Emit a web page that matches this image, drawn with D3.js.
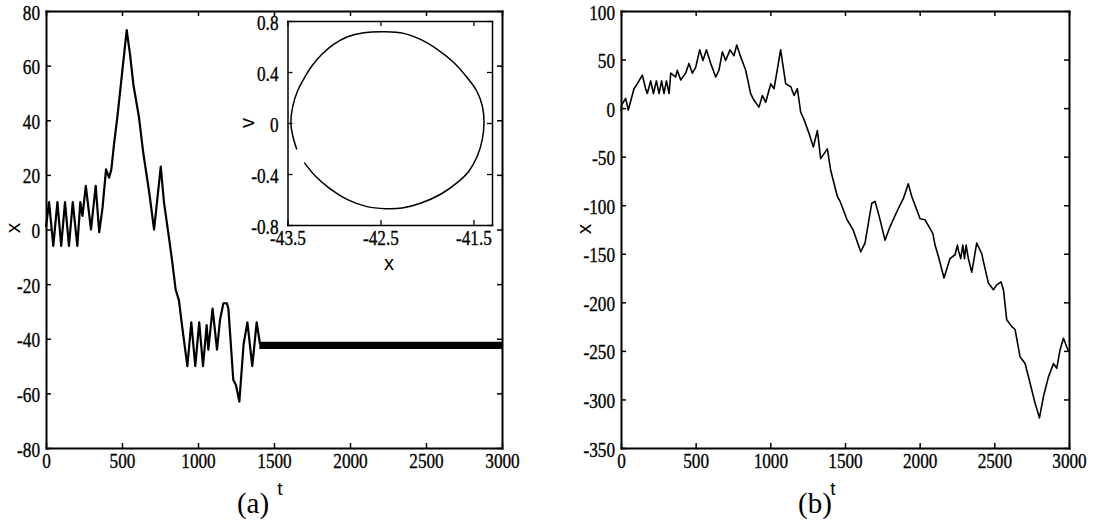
<!DOCTYPE html>
<html>
<head>
<meta charset="utf-8">
<script src="https://cdn.jsdelivr.net/npm/d3@7"></script>
<style>
  html, body { margin: 0; padding: 0; background: #fff; }
  svg { display: block; }
</style>
</head>
<body>
<svg id="fig" width="1094" height="524"></svg>
<script>
// ---- panel (a): displacement x against time t ----
const leftT = [0, 20, 48, 75, 100, 125, 151, 176, 206, 226, 240, 262, 296, 327, 350, 372, 395, 415, 430, 447,
  469, 502, 531, 553, 575, 612, 640, 678, 711, 755, 776, 809, 831, 853, 875, 890, 904, 930, 956, 982,
  1008, 1033, 1057, 1068, 1096, 1125, 1145, 1167, 1190, 1200, 1232, 1250, 1272, 1300, 1325, 1357, 1386, 1408];
const leftX = [1, 10, -6, 10, -6, 10, -6, 10, -6, 10, 5, 16, 0, 16, -1, 8, 22, 19, 22, 31,
  41, 58, 73, 64, 53, 41, 28, 14, 0, 23, 10, -3, -12, -22, -26, -33, -39, -50, -34, -50,
  -34, -50, -35, -44, -29, -44, -33, -27, -27, -29, -55, -57, -63, -42, -34, -50, -34, -42];

// ---- inset: limit cycle in the (x, v) plane ----
const orbitX = [-43.400, -43.443, -43.464, -43.443, -43.392, -43.327, -43.238, -43.130, -43.004, -42.860,
  -42.680, -42.446, -42.249, -42.069, -41.889, -41.709, -41.566, -41.464, -41.404, -41.386,
  -41.404, -41.458, -41.547, -41.674, -41.853, -42.069, -42.267, -42.446, -42.645, -42.860,
  -43.058, -43.201, -43.320];
const orbitV = [-0.207, -0.102, 0.003, 0.133, 0.251, 0.343, 0.447, 0.539, 0.617, 0.675,
  0.708, 0.716, 0.703, 0.656, 0.578, 0.473, 0.355, 0.251, 0.133, 0.003,
  -0.128, -0.259, -0.376, -0.468, -0.559, -0.630, -0.667, -0.672, -0.656, -0.599,
  -0.507, -0.416, -0.311];

// ---- panel (b): displacement x against time t ----
const rightT = [0, 4, 31, 49, 87, 109, 143, 165, 176, 199, 217, 237, 255, 272, 288, 304, 322, 333, 366, 377,
  400, 433, 455, 478, 500, 527, 549, 572, 601, 634, 656, 679, 701, 730, 757, 775, 801, 835, 868, 891,
  924, 947, 969, 1003, 1025, 1069, 1103, 1137, 1159, 1181, 1203, 1226, 1259, 1288, 1315, 1337, 1382, 1404, 1449, 1467,
  1511, 1556, 1605, 1634, 1679, 1701, 1730, 1768, 1802, 1846, 1891, 1924, 1947, 2003, 2036, 2088, 2103, 2126, 2163, 2203,
  2237, 2253, 2260, 2275, 2289, 2300, 2311, 2326, 2349, 2382, 2416, 2427, 2460, 2494, 2516, 2545, 2561, 2583, 2617, 2639,
  2672, 2706, 2739, 2773, 2802, 2829, 2862, 2896, 2918, 2940, 2963, 2985, 3000];
const rightX = [-3, 3, 10, -2, 20, 25, 34, 20, 15, 28, 15, 28, 15, 28, 15, 28, 15, 36, 32, 39,
  29, 36, 46, 36, 42, 60, 49, 60, 46, 32, 39, 58, 49, 60, 54, 65, 53, 39, 15, 8,
  1, 13, 6, 25, 20, 60, 25, 22, 13, 20, -4, -12, -26, -40, -23, -52, -42, -64, -91, -96,
  -114, -126, -148, -139, -98, -96, -112, -136, -122, -107, -93, -78, -91, -114, -115, -129, -141, -153, -175, -155,
  -151, -141, -147, -155, -141, -155, -141, -155, -169, -139, -150, -158, -180, -187, -182, -179, -187, -218, -225, -228,
  -256, -263, -283, -304, -319, -297, -277, -263, -268, -249, -237, -246, -251];

// ---- tick values ----
const tTicks = [0, 500, 1000, 1500, 2000, 2500, 3000];
const leftYTicks = [-80, -60, -40, -20, 0, 20, 40, 60, 80];
const rightYTicks = [-350, -300, -250, -200, -150, -100, -50, 0, 50, 100];
const insetXTicks = [-43.5, -42.5, -41.5];
const insetYTicks = [-0.8, -0.4, 0, 0.4, 0.8];

const svg = d3.select("#fig");
const SERIF = "'Liberation Serif', 'Times New Roman', serif";
const SANS = "'Liberation Sans', Arial, sans-serif";
const SX = 0.82;   // narrow tick numerals

// scales
const xA = d3.scaleLinear().domain([0, 3000]).range([46, 502]);
const yA = d3.scaleLinear().domain([-80, 80]).range([448, 11]);
const xI = d3.scaleLinear().domain([-43.5, -41.3]).range([287.5, 492]);
const yI = d3.scaleLinear().domain([-0.8, 0.8]).range([225, 21]);
const xB = d3.scaleLinear().domain([0, 3000]).range([621, 1069]);
const yB = d3.scaleLinear().domain([-350, 100]).range([448, 11]);

// boxed frame with inward ticks on all four sides, labels bottom and left
function frame(g, xs, ys, xt, yt, o) {
  const [x0, x1] = xs.range();
  const [yb, yt0] = ys.range();
  const fmt = d => String(d);
  const parts = [
    g.append("g").attr("transform", `translate(0,${yb})`)
      .call(d3.axisBottom(xs).tickValues(xt).tickSize(-o.tick).tickSizeOuter(0).tickFormat(fmt)),
    g.append("g").attr("transform", `translate(0,${yt0})`)
      .call(d3.axisTop(xs).tickValues(xt).tickSize(-o.tick).tickSizeOuter(0).tickFormat("")),
    g.append("g").attr("transform", `translate(${x0},0)`)
      .call(d3.axisLeft(ys).tickValues(yt).tickSize(-o.tick).tickSizeOuter(0).tickFormat(fmt)),
    g.append("g").attr("transform", `translate(${x1},0)`)
      .call(d3.axisRight(ys).tickValues(yt).tickSize(-o.tick).tickSizeOuter(0).tickFormat(""))
  ];
  parts.forEach(p => {
    p.attr("font-family", null).attr("font-size", null);
    p.select(".domain").attr("stroke", "#000").attr("stroke-width", o.sw).attr("stroke-linecap", "square");
    p.selectAll(".tick line").attr("stroke", "#000").attr("stroke-width", o.tsw);
  });
  const styleText = sel => sel
    .style("font-family", SERIF).style("font-size", o.fs + "px")
    .attr("fill", "#000").attr("stroke", "#000").attr("stroke-width", 0.35);
  parts[0].selectAll(".tick text")
    .attr("x", 0).attr("y", 0).attr("dy", null)
    .attr("text-anchor", "middle")
    .attr("transform", `translate(0,${o.bBase}) scale(${SX},1)`)
    .call(styleText);
  parts[2].selectAll(".tick text")
    .attr("x", 0).attr("y", 0).attr("dy", null)
    .attr("text-anchor", "end")
    .attr("transform", `translate(${-o.lGap},${o.lBase}) scale(${SX},1)`)
    .call(styleText);
}

function label(txt, x, y, size, fam, rot) {
  svg.append("text")
    .attr("transform", `translate(${x},${y})` + (rot ? ` rotate(${rot})` : ""))
    .attr("text-anchor", "middle")
    .attr("dy", rot ? "0.3em" : null)
    .style("font-family", fam).style("font-size", size + "px")
    .attr("fill", "#000")
    .text(txt);
}

// ================= panel (a) =================
const gA = svg.append("g");
const lineA = d3.line().x(i => xA(leftT[i])).y(i => yA(leftX[i]));
gA.append("path")
  .attr("d", lineA(d3.range(leftT.length)))
  .attr("fill", "none").attr("stroke", "#000").attr("stroke-width", 2.2).attr("stroke-linejoin", "round");

// after settling the motion stays on the limit cycle: fill the band it sweeps in x
const bandT = [leftT[leftT.length - 1], xA.domain()[1]];
const xMin = d3.min(orbitX), xMax = d3.max(orbitX);
gA.append("path")
  .attr("d", d3.area().x(d => xA(d)).y0(yA(xMin)).y1(yA(xMax))(bandT))
  .attr("fill", "#000").attr("stroke", "#000").attr("stroke-width", 1.4);

frame(gA, xA, yA, tTicks, leftYTicks, { tick: 5, sw: 2, tsw: 1.5, fs: 21, bBase: 20, lGap: 6, lBase: 8 });

// inset
const gI = svg.append("g");
gI.append("rect")
  .attr("x", xI.range()[0]).attr("y", yI.range()[1])
  .attr("width", xI.range()[1] - xI.range()[0]).attr("height", yI.range()[0] - yI.range()[1])
  .attr("fill", "#fff");
gI.append("path")
  .attr("d", d3.line().curve(d3.curveCatmullRom.alpha(0.5))
    .x(i => xI(orbitX[i])).y(i => yI(orbitV[i]))(d3.range(orbitX.length)))
  .attr("fill", "none").attr("stroke", "#000").attr("stroke-width", 1.5);
frame(gI, xI, yI, insetXTicks, insetYTicks, { tick: 5, sw: 1.5, tsw: 1.3, fs: 21, bBase: 20, lGap: 9, lBase: 8 });

label("x", 14, 228, 21, SANS, -90);
label("t", 280, 495, 19, SANS);
label("(a)", 253, 513, 29, SERIF);
label("x", 389, 270, 20, SANS);
label("v", 248, 123, 20, SANS, -90);

// ================= panel (b) =================
const gB = svg.append("g");
const lineB = d3.line().x(i => xB(rightT[i])).y(i => yB(rightX[i]));
gB.append("path")
  .attr("d", lineB(d3.range(rightT.length)))
  .attr("fill", "none").attr("stroke", "#000").attr("stroke-width", 1.6).attr("stroke-linejoin", "round");

frame(gB, xB, yB, tTicks, rightYTicks, { tick: 5, sw: 2, tsw: 1.5, fs: 21, bBase: 20, lGap: 6, lBase: 8 });

label("x", 585, 229, 21, SANS, -90);
label("t", 833, 495, 19, SANS);
label("(b)", 815, 513, 29, SERIF);
</script>
</body>
</html>
